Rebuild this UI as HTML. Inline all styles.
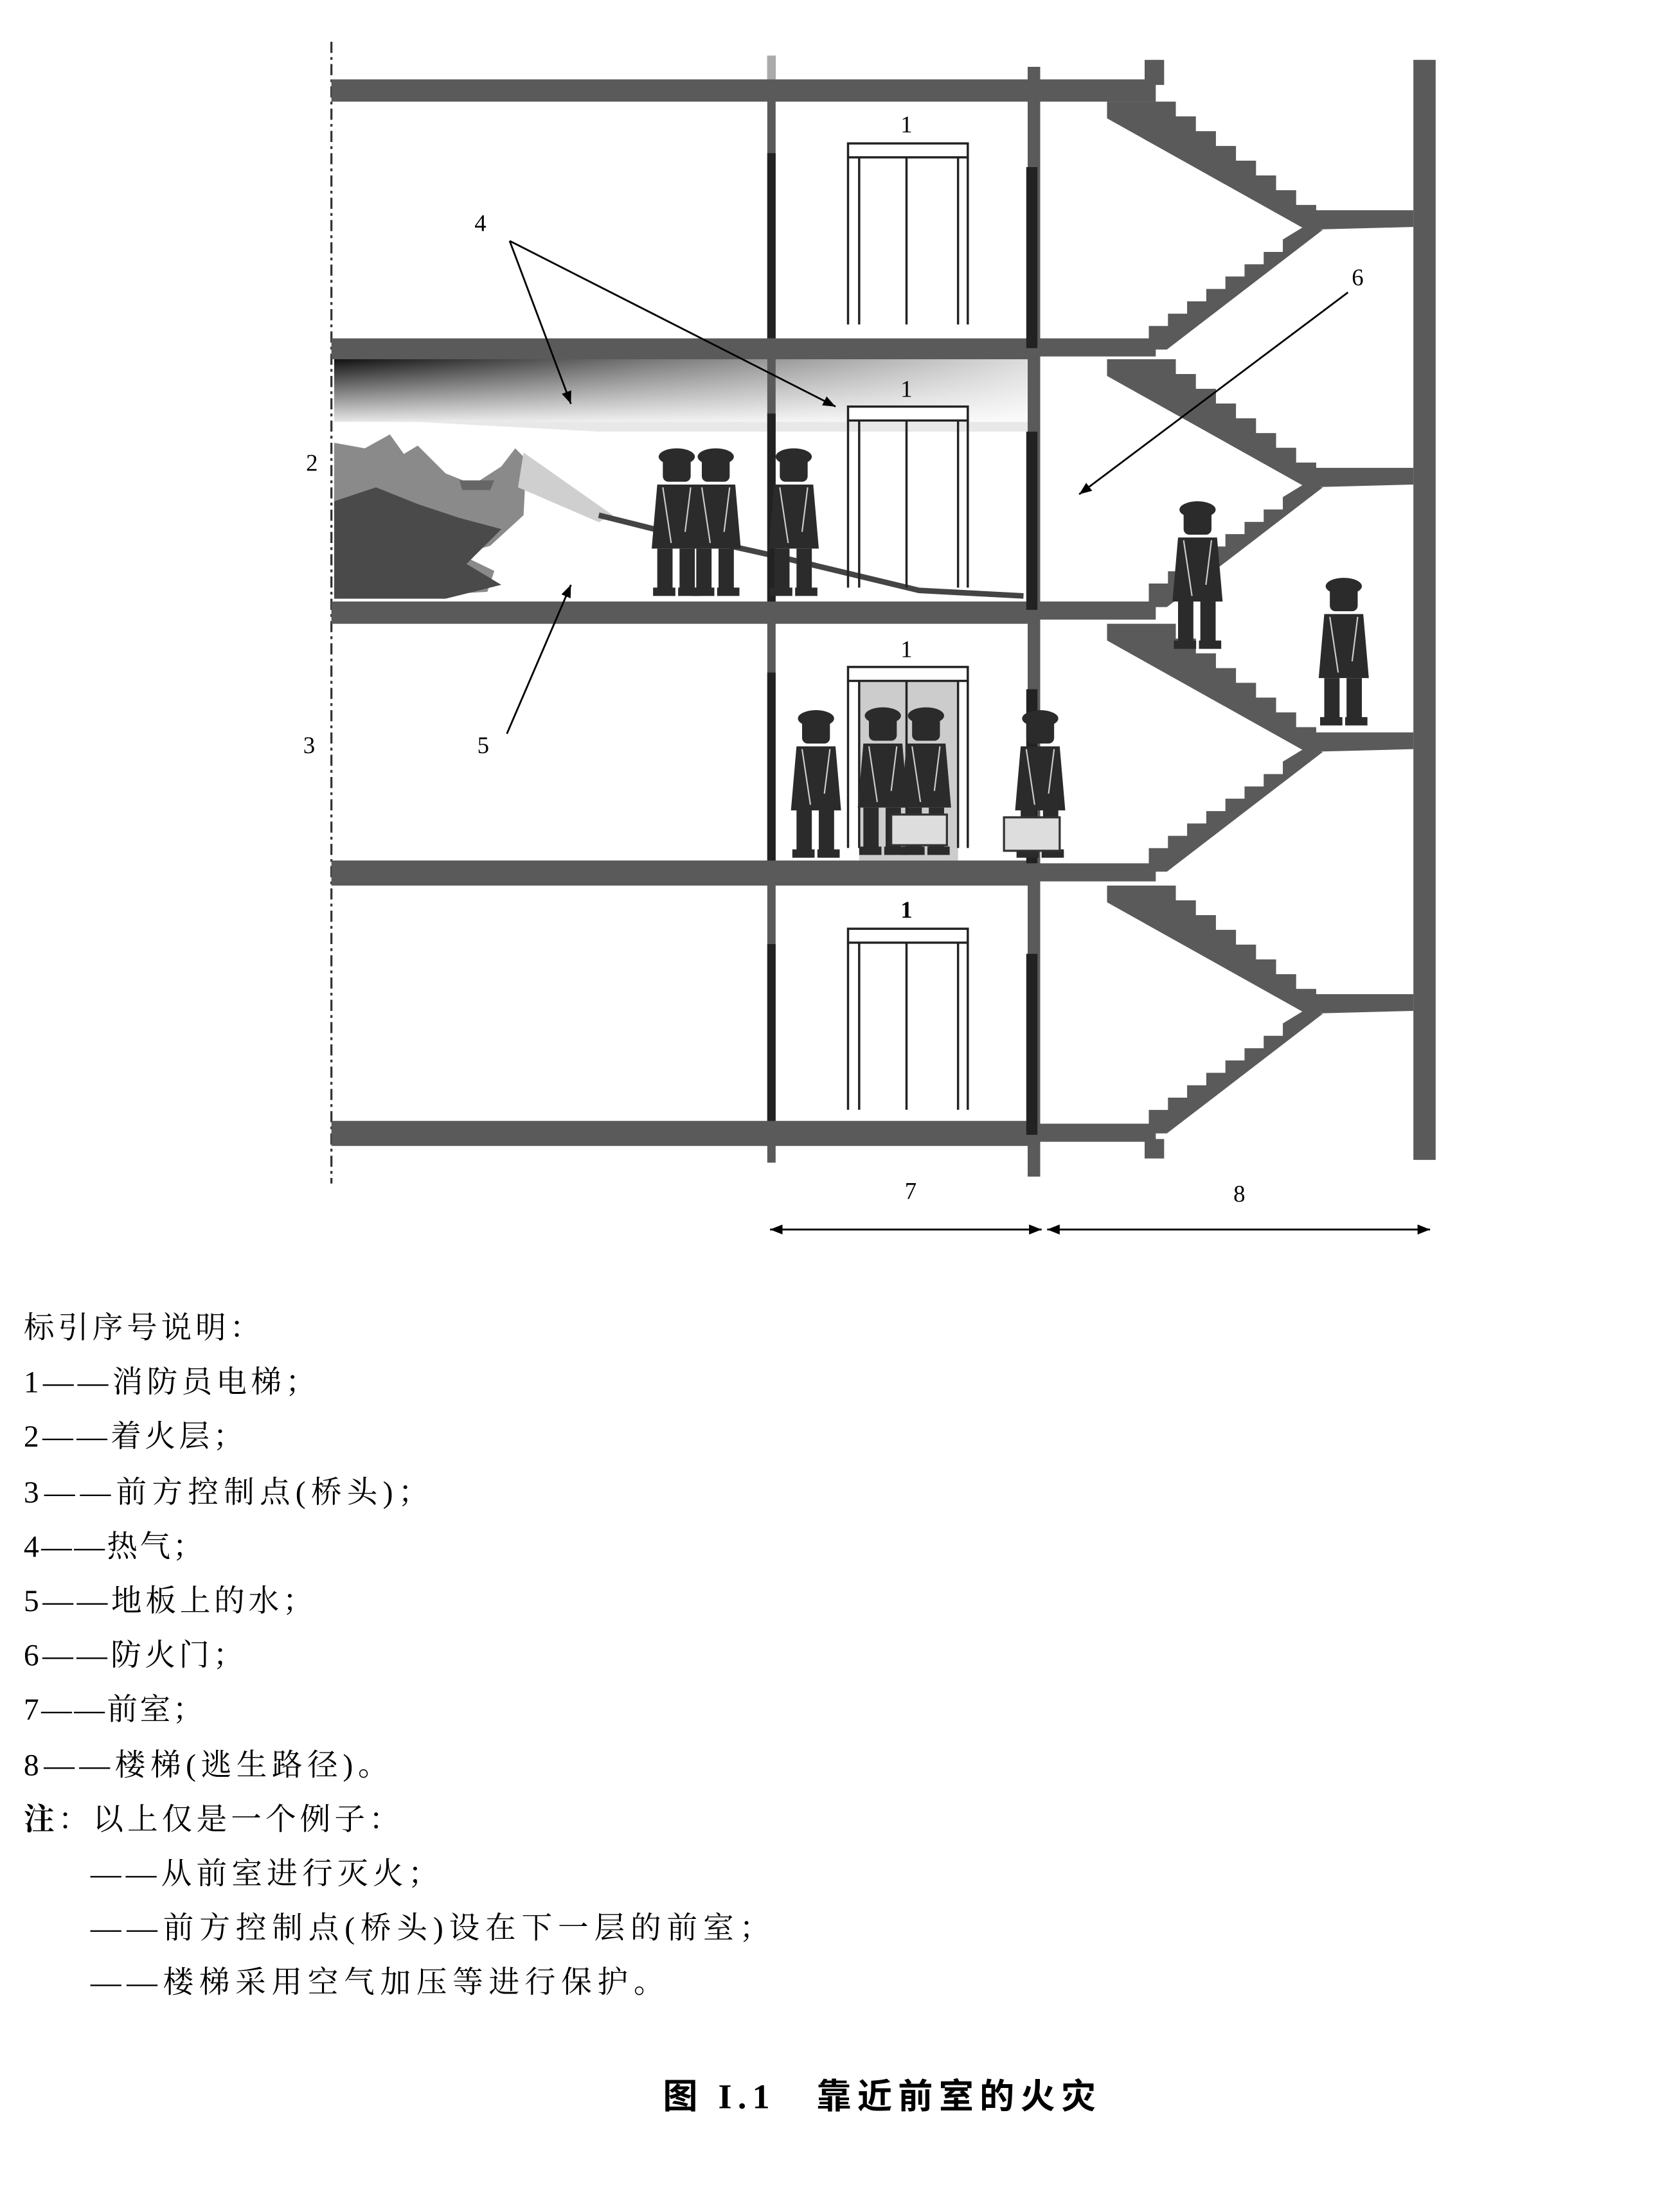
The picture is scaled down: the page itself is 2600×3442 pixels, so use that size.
<!DOCTYPE html>
<html><head><meta charset="utf-8"><style>
html,body{margin:0;padding:0;background:#fff;}
svg{display:block;}
.t{font-family:"Liberation Serif","Noto Serif CJK SC",serif;fill:#000;}
</style></head><body>
<svg width="2600" height="3442" viewBox="0 0 1200 1588.6" preserveAspectRatio="none" xmlns="http://www.w3.org/2000/svg">
<defs>
<linearGradient id="smk" x1="0" y1="0" x2="1" y2="0">
<stop offset="0" stop-color="#111"/><stop offset="0.45" stop-color="#777"/><stop offset="1" stop-color="#ddd"/>
</linearGradient>
<linearGradient id="smkv" x1="0" y1="0" x2="0" y2="1">
<stop offset="0" stop-color="#fff" stop-opacity="0"/><stop offset="1" stop-color="#fff" stop-opacity="0.9"/>
</linearGradient>
<marker id="ah" viewBox="0 0 10 10" refX="10" refY="5" markerWidth="9" markerHeight="9" orient="auto-start-reverse" markerUnits="userSpaceOnUse"><path d="M0,1 L10,5 L0,9 z" fill="#000"/></marker>
<g id="stair" fill="#5a5a5a">
<polygon points="795,0 830,0 844.4,0 844.4,10.6 858.8,10.6 858.8,21.2 873.2,21.2 873.2,31.8 887.6,31.8 887.6,42.4 902,42.4 902,53 916.4,53 916.4,63.6 930.8,63.6 930.8,74.2 945.2,74.2 945.2,78 1015,78 1015,90 938,92 795,12"/>
<polygon points="825,178 825,161.1 838.75,161.1 838.75,152.3 852.5,152.3 852.5,143.4 866.25,143.4 866.25,134.5 880,134.5 880,125.6 893.75,125.6 893.75,116.8 907.5,116.8 907.5,107.9 921.25,107.9 921.25,99 936,90 950,92 838,178"/>
</g>
<g id="elev" fill="none" stroke="#222" stroke-width="1.6">
<rect x="609" y="0" width="86" height="10" fill="#fff"/>
<line x1="609" y1="10" x2="609" y2="130"/><line x1="617" y1="10" x2="617" y2="130"/>
<line x1="688" y1="10" x2="688" y2="130"/><line x1="695" y1="10" x2="695" y2="130"/>
<line x1="651" y1="10" x2="651" y2="130"/>
</g>
<g id="ff" fill="#2b2b2b">
<ellipse cx="20" cy="6" rx="13" ry="6"/>
<rect x="10" y="6" width="20" height="18" rx="4"/>
<path d="M6,26 L34,26 L38,72 L2,72 Z"/>
<rect x="6" y="72" width="11" height="30"/><rect x="22" y="72" width="11" height="30"/>
<rect x="3" y="100" width="16" height="6"/><rect x="21" y="100" width="16" height="6"/>
<path d="M10,28 L16,68 M30,28 L26,60" stroke="#ccc" stroke-width="1" fill="none"/>
</g>
</defs>

<line x1="238" y1="30" x2="238" y2="850" stroke="#333" stroke-width="1.5" stroke-dasharray="8,3,2,3"/>

<rect x="240" y="258" width="500" height="45" fill="url(#smk)"/>
<rect x="240" y="258" width="500" height="45" fill="url(#smkv)"/>
<polygon points="300,303 740,303 740,310 430,310" fill="#e8e8e8"/>
<path d="M240,318 L262,322 L280,312 L290,326 L300,320 L320,340 L340,348 L360,335 L370,322 L378,330 L376,370 L352,392 L330,398 L355,410 L350,425 L300,428 L240,430 Z" fill="#8a8a8a"/>
<path d="M240,360 L270,350 L300,362 L330,372 L360,380 L345,395 L335,405 L360,420 L320,430 L240,430 Z" fill="#4a4a4a"/>
<path d="M330,345 L355,345 L352,352 L332,352 Z" fill="#666"/>
<polygon points="376,325 440,370 430,375 372,350" fill="#cfcfcf"/>
<path d="M430,370 L470,380 L560,400 L660,424 L735,428" stroke="#444" stroke-width="4" fill="none"/>

<g fill="#5a5a5a">
<rect x="238" y="57" width="592" height="16"/>
<rect x="238" y="243" width="507" height="15"/>
<rect x="238" y="432" width="507" height="16"/>
<rect x="238" y="618" width="507" height="18"/>
<rect x="238" y="805" width="507" height="18"/>
<rect x="745" y="243" width="85" height="13"/>
<rect x="745" y="432" width="85" height="13"/>
<rect x="745" y="620" width="85" height="13"/>
<rect x="745" y="807" width="85" height="13"/>
<rect x="822" y="43" width="14" height="18"/>
<rect x="822" y="818" width="14" height="14"/>
<rect x="1015" y="43" width="16" height="790"/>
<rect x="551" y="40" width="6" height="795"/>
<rect x="738" y="48" width="9" height="797"/>
</g>
<rect x="551" y="40" width="6" height="17" fill="#aaa"/>
<g fill="#222">
<rect x="551" y="110" width="6" height="133"/><rect x="551" y="297" width="6" height="135"/>
<rect x="551" y="483" width="6" height="135"/><rect x="551" y="678" width="6" height="127"/>
<rect x="737" y="120" width="8" height="130"/><rect x="737" y="310" width="8" height="128"/>
<rect x="737" y="495" width="8" height="125"/><rect x="737" y="685" width="8" height="130"/>
</g>
<use href="#stair" transform="translate(0,73)"/>
<use href="#stair" transform="translate(0,258)"/>
<use href="#stair" transform="translate(0,448)"/>
<use href="#stair" transform="translate(0,636)"/>

<use href="#elev" transform="translate(0,103)"/>
<use href="#elev" transform="translate(0,292)"/>
<rect x="617" y="489" width="71" height="129" fill="#ccc"/>
<use href="#elev" transform="translate(0,479)"/>
<use href="#elev" transform="translate(0,667)"/>

<use href="#ff" transform="translate(466,322)"/>
<use href="#ff" transform="translate(494,322)"/>
<use href="#ff" transform="translate(550,322)"/>
<use href="#ff" transform="translate(566,510)"/>
<use href="#ff" transform="translate(614,508)"/>
<use href="#ff" transform="translate(645,508)"/>
<use href="#ff" transform="translate(727,510)"/>
<use href="#ff" transform="translate(840,360)"/>
<use href="#ff" transform="translate(945,415)"/>
<g fill="#ddd" stroke="#333" stroke-width="1.5">
<rect x="640" y="585" width="40" height="22"/><rect x="721" y="587" width="40" height="24"/>
</g>

<g class="t" font-size="17" text-anchor="middle">
<text x="651" y="95">1</text><text x="651" y="285">1</text><text x="651" y="472">1</text>
<text x="651" y="659" font-weight="bold">1</text>
<text x="345" y="166">4</text><text x="975" y="205">6</text><text x="347" y="541">5</text>
<text x="224" y="338">2</text><text x="222" y="541">3</text>
<text x="654" y="861">7</text><text x="890" y="863">8</text>
</g>
<g stroke="#000" stroke-width="1.3" fill="none">
<line x1="366" y1="173" x2="410" y2="290" marker-end="url(#ah)"/>
<line x1="366" y1="173" x2="600" y2="292" marker-end="url(#ah)"/>
<line x1="968" y1="210" x2="775" y2="355" marker-end="url(#ah)"/>
<line x1="364" y1="527" x2="410" y2="420" marker-end="url(#ah)"/>
<line x1="553" y1="883" x2="748" y2="883" marker-start="url(#ah)" marker-end="url(#ah)"/>
<line x1="752" y1="883" x2="1027" y2="883" marker-start="url(#ah)" marker-end="url(#ah)"/>
</g>

<g class="t" font-size="22">
<text x="17" y="961" textLength="170" lengthAdjust="spacing">标引序号说明：</text>
<text x="17" y="1000" textLength="210" lengthAdjust="spacing">1——消防员电梯；</text>
<text x="17" y="1039" textLength="158" lengthAdjust="spacing">2——着火层；</text>
<text x="17" y="1079" textLength="291" lengthAdjust="spacing">3——前方控制点(桥头)；</text>
<text x="17" y="1118" textLength="129" lengthAdjust="spacing">4——热气；</text>
<text x="17" y="1157" textLength="208" lengthAdjust="spacing">5——地板上的水；</text>
<text x="17" y="1196" textLength="158" lengthAdjust="spacing">6——防火门；</text>
<text x="17" y="1235" textLength="129" lengthAdjust="spacing">7——前室；</text>
<text x="17" y="1275" textLength="262" lengthAdjust="spacing">8——楼梯(逃生路径)。</text>
<text x="17" y="1314" textLength="270" lengthAdjust="spacing"><tspan font-weight="bold">注</tspan>：以上仅是一个例子：</text>
<text x="65" y="1353" textLength="250" lengthAdjust="spacing">——从前室进行灭火；</text>
<text x="65" y="1392" textLength="488" lengthAdjust="spacing">——前方控制点(桥头)设在下一层的前室；</text>
<text x="65" y="1431" textLength="412" lengthAdjust="spacing">——楼梯采用空气加压等进行保护。</text>
</g>
<text class="t" x="476" y="1514" font-size="25" font-weight="bold" textLength="311" lengthAdjust="spacing" style="font-family:'Liberation Serif','Noto Sans CJK SC',sans-serif">图 I.1　靠近前室的火灾</text>
</svg>
</body></html>
